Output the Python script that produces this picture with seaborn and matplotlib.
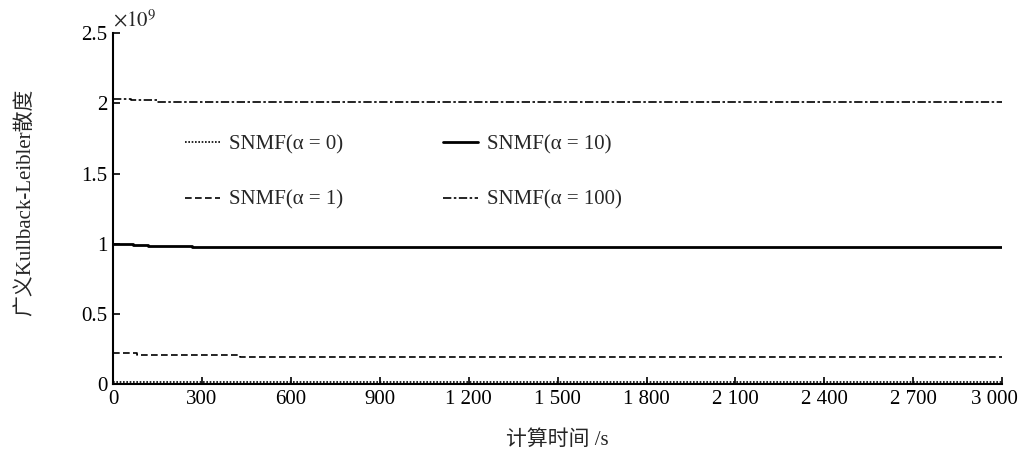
import numpy as np
import pandas as pd
import matplotlib
matplotlib.use("Agg")
import matplotlib.pyplot as plt
from matplotlib.ticker import FuncFormatter
from matplotlib.transforms import ScaledTranslation
import seaborn as sns

# step curves, values in units of 1e9
t_a0 = [0, 150, 3000]
v_a0 = [0.016, 0.012, 0.012]
t_a1 = [0, 80, 150, 430, 3000]
v_a1 = [0.22, 0.21, 0.205, 0.19, 0.19]
t_a10 = [0, 67, 118, 266, 3000]
v_a10 = [1.0, 0.99, 0.982, 0.974, 0.974]
t_a100 = [0, 60, 148, 590, 3000]
v_a100 = [2.034, 2.025, 2.012, 2.008, 2.008]

labels = ['SNMF(α = 0)', 'SNMF(α = 1)', 'SNMF(α = 10)', 'SNMF(α = 100)']
xticks = [0, 300, 600, 900, 1200, 1500, 1800, 2100, 2400, 2700, 3000]
yticks = [0, 0.5, 1, 1.5, 2, 2.5]

sns.set_style('ticks')
plt.rcParams['font.family'] = ['Liberation Serif', 'Noto Sans CJK SC']
plt.rcParams['mathtext.fontset'] = 'stix'
plt.rcParams['axes.unicode_minus'] = False

fig = plt.figure(figsize=(10.22, 4.54), dpi=100)
ax = fig.add_axes([0.1106, 0.154, 0.870, 0.773])

series = [(t_a0, v_a0, (0, (1, 1)), 1.2),
          (t_a1, v_a1, (0, (4, 2)), 1.2),
          (t_a10, v_a10, '-', 2.0),
          (t_a100, v_a100, (0, (5, 1.5, 1.5, 1.5)), 1.2)]
for (t, v, ls, lw), lab in zip(series, labels):
    df = pd.DataFrame({'t': t, 'v': v})
    sns.lineplot(data=df, x='t', y='v', ax=ax, color='black', linestyle=ls,
                 linewidth=lw, drawstyle='steps-post', label=lab, zorder=5)

ax.set_xlim(0, 3000)
ax.set_ylim(0, 2.5)
ax.set_xticks(xticks)
ax.set_yticks(yticks)
ax.xaxis.set_major_formatter(FuncFormatter(lambda x, p: '{:,}'.format(int(x)).replace(',', ' ')))
ax.yaxis.set_major_formatter(FuncFormatter(lambda y, p: '{:g}'.format(y)))
ax.tick_params(direction='in', length=5, width=1.2, labelsize=15, colors='black', pad=4)
for s in ['top', 'right']:
    ax.spines[s].set_visible(False)
for s in ['left', 'bottom']:
    ax.spines[s].set_linewidth(1.5)
    ax.spines[s].set_color('black')

# last x label sits a little left of its tick, as in the original
last = ax.get_xticklabels()[-1]
last.set_transform(last.get_transform() + ScaledTranslation(-8 / 100, 0, fig.dpi_scale_trans))

ax.set_xlabel('计算时间 /s', fontsize=15, va='top')
ax.xaxis.set_label_coords(0.5, -0.132)
ax.set_ylabel('广义Kullback-Leibler散度', fontsize=15)
ax.yaxis.set_label_coords(-0.088, 0.518)
ax.text(0, 1.005, r'$\times10^9$', transform=ax.transAxes, fontsize=15, va='bottom', ha='left')

ax.legend(ncol=2, frameon=False, loc='upper left', bbox_to_anchor=(0.081, 0.71),
          fontsize=15, handlelength=1.7, handletextpad=0.4, labelspacing=1.72,
          columnspacing=4.8, borderpad=0, borderaxespad=0)

fig.savefig('out.png', dpi=100)
